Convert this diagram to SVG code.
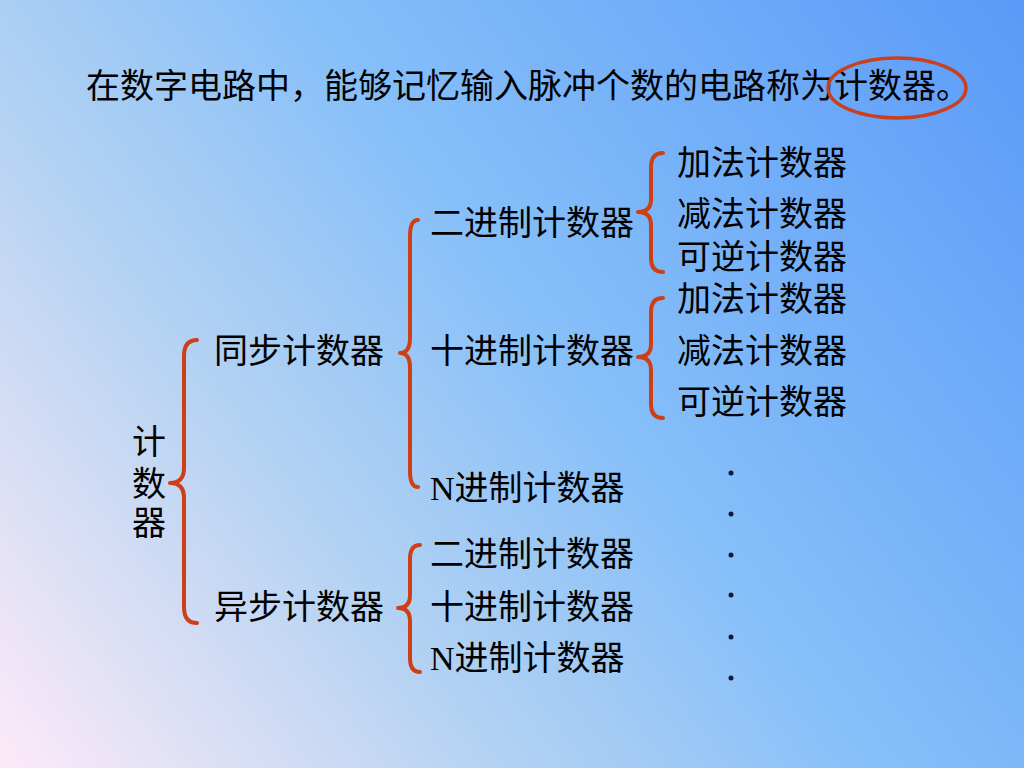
<svg xmlns="http://www.w3.org/2000/svg" width="1024" height="768" viewBox="0 0 1024 768">
<defs>
<linearGradient id="bg" gradientUnits="userSpaceOnUse" x1="0" y1="768" x2="1024" y2="0">
<stop offset="0" stop-color="#fdeaf8"/>
<stop offset="0.3" stop-color="#b6d3f2"/>
<stop offset="0.55" stop-color="#86bff9"/>
<stop offset="1" stop-color="#5a9af8"/>
</linearGradient>
<style>
text{font-family:"Liberation Serif","Noto Sans CJK SC",serif;font-size:34px;fill:#000}
.brace{fill:none;stroke:#cc3f17;stroke-width:4;stroke-linecap:round;stroke-linejoin:round}
.dot{fill:#0b1838}
</style>
</defs>
<rect width="1024" height="768" fill="url(#bg)"/>
<g id="title"><text x="86" y="98">在数字电路中，能够记忆输入脉冲个数的电路称为计数器。</text></g>
<g id="highlight"><ellipse cx="897" cy="88" rx="69" ry="30" fill="none" stroke="#c8401e" stroke-width="3.5"/></g>
<g id="connectors">
<path class="brace" d="M197,340 Q184,340 184,356 L184,468 Q184,483 170,483 Q184,483 184,498 L184,607 Q184,623 197,623"/>
<path class="brace" d="M418,220 Q410,220 410,236 L410,338 Q410,353 400,353 Q410,353 410,368 L410,471 Q410,487 418,487"/>
<path class="brace" d="M663,153 Q651,153 651,167 L651,199 Q651,212 638,212 Q651,212 651,225 L651,258 Q651,272 663,272"/>
<path class="brace" d="M663,298 Q651,298 651,312 L651,344 Q651,357 638,357 Q651,357 651,370 L651,404 Q651,418 663,418"/>
<path class="brace" d="M420,545 Q410,545 410,559 L410,595 Q410,608 398,608 Q410,608 410,621 L410,658 Q410,672 420,672"/>
</g>
<g id="root"><text x="132" y="454">计</text><text x="132" y="496">数</text><text x="132" y="535">器</text></g>
<g id="sync"><text x="214" y="363">同步计数器</text></g>
<g id="async"><text x="214" y="619">异步计数器</text></g>
<g id="bin1"><text x="430" y="235">二进制计数器</text></g>
<g id="dec1"><text x="430" y="363">十进制计数器</text></g>
<g id="n1"><text x="430" y="500">N进制计数器</text></g>
<g id="bin2"><text x="430" y="566">二进制计数器</text></g>
<g id="dec2"><text x="430" y="619">十进制计数器</text></g>
<g id="n2"><text x="430" y="670">N进制计数器</text></g>
<g id="add1"><text x="677" y="175">加法计数器</text></g>
<g id="sub1"><text x="677" y="226">减法计数器</text></g>
<g id="rev1"><text x="677" y="269">可逆计数器</text></g>
<g id="add2"><text x="677" y="311">加法计数器</text></g>
<g id="sub2"><text x="677" y="363">减法计数器</text></g>
<g id="rev2"><text x="677" y="414">可逆计数器</text></g>
<g id="dots">
<circle class="dot" cx="731" cy="473" r="2.5"/>
<circle class="dot" cx="731" cy="514" r="2.5"/>
<circle class="dot" cx="731" cy="555" r="2.5"/>
<circle class="dot" cx="731" cy="595" r="2.5"/>
<circle class="dot" cx="731" cy="637" r="2.5"/>
<circle class="dot" cx="731" cy="678" r="2.5"/>
</g>
</svg>
